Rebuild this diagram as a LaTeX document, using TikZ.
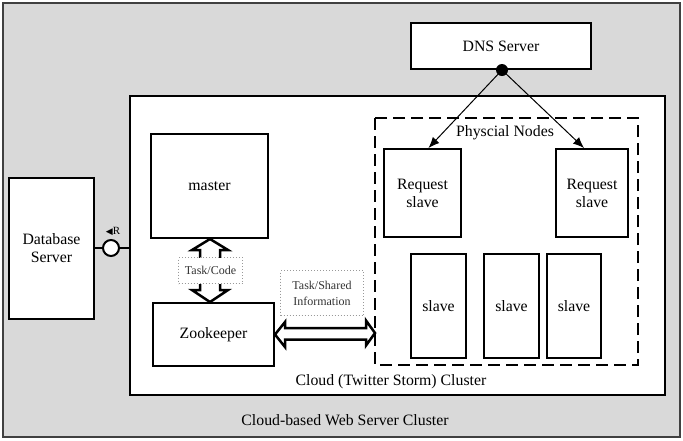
\documentclass[tikz,border=0pt]{standalone}
\usepackage{fontspec}
\setmainfont{Liberation Serif}
\newfontfamily\symfont{DejaVu Sans}
\usetikzlibrary{calc,arrows.meta}
\definecolor{bggray}{HTML}{D9D9D9}
\definecolor{framegray}{HTML}{404040}
\tikzset{
  box/.style={draw=black, fill=white, line width=2pt, anchor=north west, align=center, inner sep=2pt},
  lbl/.style={font=\fontsize{15.8}{18}\selectfont, align=center},
  tasklbl/.style={draw=gray!80, dotted, line width=1pt, fill=white, anchor=north west, align=center, font=\fontsize{12}{14}\selectfont, text=black!80},
  dblarrow/.style={draw=black, fill=white, line width=2.5pt, line join=miter},
}
\begin{document}
\begin{tikzpicture}[x=1pt,y=-1pt]
\useasboundingbox (0,0) rectangle (683,440);
% outer frame
\draw[fill=bggray, draw=framegray, line width=2pt] (3,3) rectangle (680,437);
\node[lbl] (outerlbl) at (345,420) {Cloud-based Web Server Cluster};
% cloud cluster
\draw[fill=white, draw=black, line width=2pt] (130,96) rectangle (665,395);
\node[lbl] (cloudlbl) at (391,382) {Cloud (Twitter Storm) Cluster};
% dashed physical nodes
\draw[line width=2pt, dash pattern=on 12pt off 6pt] (375,118) rectangle (638,365);
\coordinate (dashleft) at (375,333);
\node[lbl] (physlbl) at (505,133) {Physcial Nodes};
% DNS server
\node[box, minimum width=180pt, minimum height=46pt, lbl] (dns) at (410,22) {DNS Server};
\fill (dns.south) ++(1,0) circle (6pt);
\coordinate (dot) at ($(dns.south)+(1,0)$);
% request slaves
\node[box, minimum width=77pt, minimum height=88pt, lbl] (req1) at (383,148) {Request\\slave};
\node[box, minimum width=72pt, minimum height=88pt, lbl] (req2) at (555,148) {Request\\slave};
\draw[line width=1pt, -{Latex[length=11pt,width=9pt]}] (dot) -- ($(req1.north)+(6,0)$);
\draw[line width=1pt, -{Latex[length=11pt,width=9pt]}] (dot) -- ($(req2.north)+(-8,0)$);
% slaves
\node[box, minimum width=55pt, minimum height=104pt, lbl] (s1) at (410,253) {slave};
\node[box, minimum width=55pt, minimum height=104pt, lbl] (s2) at (483,253) {slave};
\node[box, minimum width=54pt, minimum height=104pt, lbl] (s3) at (546,253) {slave};
% master and zookeeper
\node[box, minimum width=117pt, minimum height=104pt, lbl] (master) at (150,133) {master};
\node[box, minimum width=121pt, minimum height=63pt, lbl] (zoo) at (152,302) {Zookeeper};
% vertical double arrow
\coordinate (vt) at (master.south -| 210,0);
\coordinate (vb) at (zoo.north -| 210,0);
\draw[dblarrow] (vt) -- ++(18,11) -- ++(-8,0) |- ($(vb)+(10,-12)$) -- ++(8,0) -- (vb)
  -- ++(-18,-12) -- ++(8,0) |- ($(vt)+(-10,11)$) -- ++(-8,0) -- cycle;
\node[tasklbl, minimum width=64pt, minimum height=26pt] (taskcode) at (178,257) {Task/Code};
% horizontal double arrow
\coordinate (hl) at (zoo.east);
\coordinate (hr) at (dashleft);
\draw[dblarrow] (hl) -- ++(10,-12.5) -- ++(0,6) -| ($(hr)+(-9,-6.5)$) -- ++(0,-6) -- (hr)
  -- ++(-9,12.5) -- ++(0,-6) -| ($(hl)+(10,6.5)$) -- ++(0,6) -- cycle;
\node[tasklbl, minimum width=83pt, minimum height=45pt, font=\fontsize{12}{16}\selectfont] (taskshared) at (280,270) {Task/Shared\\Information};
% database server
\node[box, minimum width=85pt, minimum height=141pt, lbl] (db) at (8,177) {Database\\Server};
\node[circle, draw=black, fill=white, line width=2pt, minimum size=16pt, inner sep=0pt] (rc) at (111,248) {};
\draw[line width=2pt] (rc.west) -- (db.east |- rc.west);
\draw[line width=2pt] (rc.east) -- (130,248);
\node[font=\fontsize{11}{13}\selectfont, inner sep=0pt] (rlbl) at (113,231) {{\symfont\fontsize{9}{11}\selectfont ◀}R};
\end{tikzpicture}
\end{document}
